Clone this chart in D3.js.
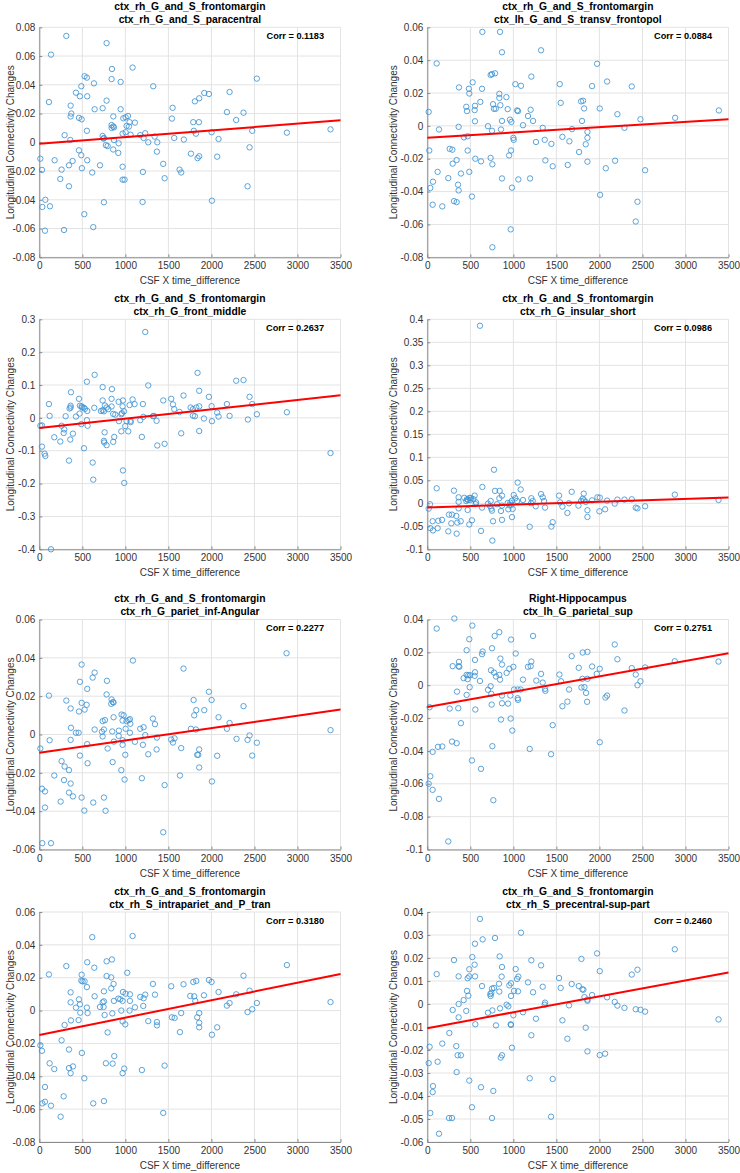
<!DOCTYPE html>
<html><head><meta charset="utf-8">
<script src="https://cdn.jsdelivr.net/npm/d3@7"></script>
<style>
body{margin:0;background:#fff;}
svg{display:block;}
text{font-family:"Liberation Sans",Arial,Helvetica,sans-serif;}
</style>
</head><body>
<svg id="chart" width="740" height="1173"></svg>
<script>
// ---------------- DATA ----------------
const xTicks = [0, 500, 1000, 1500, 2000, 2500, 3000, 3500];
const xTickLabels = ["0","500","1000","1500","2000","2500","3000","3500"];
const xLabel = "CSF X time_difference";
const yLabel = "Longitudinal Connectivity Changes";

const titles = [
  ["ctx_rh_G_and_S_frontomargin", "ctx_rh_G_and_S_paracentral"],
  ["ctx_rh_G_and_S_frontomargin", "ctx_lh_G_and_S_transv_frontopol"],
  ["ctx_rh_G_and_S_frontomargin", "ctx_rh_G_front_middle"],
  ["ctx_rh_G_and_S_frontomargin", "ctx_rh_G_insular_short"],
  ["ctx_rh_G_and_S_frontomargin", "ctx_rh_G_pariet_inf-Angular"],
  ["Right-Hippocampus", "ctx_lh_G_parietal_sup"],
  ["ctx_rh_G_and_S_frontomargin", "ctx_rh_S_intrapariet_and_P_tran"],
  ["ctx_rh_G_and_S_frontomargin", "ctx_rh_S_precentral-sup-part"]
];
const corrLabels = ["Corr = 0.1183","Corr = 0.0884","Corr = 0.2637","Corr = 0.0986",
                    "Corr = 0.2277","Corr = 0.2751","Corr = 0.3180","Corr = 0.2460"];

const yTicks1 = [-0.08,-0.06,-0.04,-0.02,0,0.02,0.04,0.06,0.08];
const yTickLabels1 = ["-0.08","-0.06","-0.04","-0.02","0","0.02","0.04","0.06","0.08"];
const yTicks2 = [-0.08,-0.06,-0.04,-0.02,0,0.02,0.04,0.06];
const yTickLabels2 = ["-0.08","-0.06","-0.04","-0.02","0","0.02","0.04","0.06"];
const yTicks3 = [-0.4,-0.3,-0.2,-0.1,0,0.1,0.2,0.3];
const yTickLabels3 = ["-0.4","-0.3","-0.2","-0.1","0","0.1","0.2","0.3"];
const yTicks4 = [-0.1,-0.05,0,0.05,0.1,0.15,0.2,0.25,0.3,0.35,0.4];
const yTickLabels4 = ["-0.1","-0.05","0","0.05","0.1","0.15","0.2","0.25","0.3","0.35","0.4"];
const yTicks5 = [-0.06,-0.04,-0.02,0,0.02,0.04,0.06];
const yTickLabels5 = ["-0.06","-0.04","-0.02","0","0.02","0.04","0.06"];
const yTicks6 = [-0.1,-0.08,-0.06,-0.04,-0.02,0,0.02,0.04];
const yTickLabels6 = ["-0.1","-0.08","-0.06","-0.04","-0.02","0","0.02","0.04"];
const yTicks7 = [-0.08,-0.06,-0.04,-0.02,0,0.02,0.04,0.06];
const yTickLabels7 = ["-0.08","-0.06","-0.04","-0.02","0","0.02","0.04","0.06"];
const yTicks8 = [-0.06,-0.05,-0.04,-0.03,-0.02,-0.01,0,0.01,0.02,0.03,0.04];
const yTickLabels8 = ["-0.06","-0.05","-0.04","-0.03","-0.02","-0.01","0","0.01","0.02","0.03","0.04"];

// fitted line values at x = 0 and x = 3500
const fitX = [0, 3500];
const fit1 = [-0.001, 0.0153];
const fit2 = [-0.0072, 0.0040];
const fit3 = [-0.031, 0.069];
const fit4 = [-0.009, 0.0125];
const fit5 = [-0.0095, 0.013];
const fit6 = [-0.0133, 0.0194];
const fit7 = [-0.0149, 0.0222];
const fit8 = [-0.0105, 0.0137];

const pts1 = [[314,0.074],[136,0.061],[782,0.069],[112,0.028],[844,0.051],[1084,0.052],[526,0.046],[553,0.045],[840,0.044],[488,0.039],[635,0.041],[945,0.042],[1324,0.039],[426,0.0345],[472,0.032],[557,0.032],[782,0.029],[364,0.0255],[372,0.020],[364,0.018],[461,0.017],[492,0.016],[643,0.023],[736,0.0237],[945,0.023],[860,0.018],[976,0.0167],[1003,0.0174],[1030,0.0183],[1049,0.014],[1111,0.0137],[1014,0.0114],[840,0.012],[859,0.011],[867,0.0104],[840,0.010],[1042,0.011],[553,0.008],[294,0.005],[360,0.0016],[736,0.0044],[751,0.003],[747,0.0025],[968,0.006],[1003,0.007],[1061,0.0053],[867,0.0016],[922,-0.0007],[774,-0.002],[794,-0.0026],[859,-0.005],[918,-0.0074],[1173,0.005],[1212,0.003],[1231,0.0063],[1266,0.0],[1340,0.004],[1371,0.0],[1367,-0.0065],[1541,0.0165],[1549,0.024],[1568,0.003],[1680,0.0019],[1440,-0.015],[1456,-0.025],[1630,-0.019],[1649,-0.021],[1762,-0.0079],[1808,0.0285],[1858,0.0306],[1917,0.0343],[1971,0.0336],[1789,0.014],[1796,0.008],[1820,0.006],[1855,0.014],[1839,-0.011],[1858,-0.0097],[2002,0.007],[2083,0.0023],[2067,-0.01],[2006,-0.0406],[2180,0.021],[2211,0.035],[2288,0.0155],[2373,0.0206],[2474,0.008],[2443,-0.0035],[2420,-0.0306],[2528,0.0443],[2877,0.0067],[3384,0.009],[1200,-0.0415],[1204,-0.0206],[968,-0.017],[968,-0.026],[991,-0.026],[751,-0.0417],[705,-0.016],[615,-0.021],[557,-0.0125],[488,-0.009],[461,-0.0056],[495,-0.018],[387,-0.013],[345,-0.016],[259,-0.019],[244,-0.0255],[345,-0.0306],[178,-0.0125],[12,-0.0114],[31,-0.0192],[70,-0.040],[35,-0.045],[124,-0.0445],[66,-0.0615],[287,-0.061],[627,-0.059],[523,-0.050]];

const pts2 = [[640,0.0572],[845,0.0572],[868,0.0448],[1322,0.046],[109,0.038],[736,0.031],[752,0.0315],[787,0.032],[527,0.0265],[636,0.0226],[368,0.0234],[484,0.0226],[488,0.0197],[1023,0.0254],[1089,0.0244],[1209,0.030],[837,0.0195],[837,0.017],[919,0.0175],[616,0.0146],[453,0.0116],[554,0.0122],[764,0.0132],[849,0.0126],[775,0.0104],[795,0.0104],[934,0.0102],[461,0.009],[550,0.0096],[1043,0.0094],[1054,0.009],[1201,0.0098],[1170,0.006],[16,0.0085],[554,0.0028],[868,0.003],[961,0.0038],[977,0.0024],[1229,0.003],[1112,0.0004],[705,-0.0002],[364,-0.0006],[136,-0.0022],[752,-0.003],[856,-0.0022],[1341,-0.0012],[426,-0.007],[469,-0.0063],[1000,-0.0073],[1004,-0.0085],[23,-0.015],[260,-0.014],[291,-0.0145],[469,-0.015],[341,-0.0208],[295,-0.023],[558,-0.020],[624,-0.0216],[736,-0.0195],[756,-0.0234],[950,-0.018],[973,-0.015],[120,-0.028],[391,-0.029],[488,-0.028],[244,-0.0318],[868,-0.032],[1058,-0.0326],[1194,-0.032],[35,-0.0378],[66,-0.034],[357,-0.0358],[364,-0.0393],[984,-0.0376],[310,-0.0458],[341,-0.0464],[519,-0.043],[62,-0.048],[174,-0.049],[969,-0.063],[756,-0.0739],[1263,-0.0098],[1364,-0.0085],[1442,-0.011],[1372,-0.021],[1457,-0.0246],[1539,0.0254],[1550,0.014],[1570,-0.0067],[1651,-0.0094],[1682,-0.002],[1632,-0.0238],[1764,-0.0159],[1787,0.0149],[1810,0.0153],[1822,0.0106],[1798,0.003],[1841,-0.0112],[1861,-0.0073],[1861,-0.0037],[1861,-0.0218],[1915,0.0242],[1973,0.0378],[2004,0.0106],[2089,0.027],[2074,-0.0258],[2008,-0.042],[2209,0.0071],[2182,-0.0212],[2291,-0.0012],[2376,0.024],[2477,0.004],[2531,-0.027],[2442,-0.0462],[2422,-0.0582],[2880,0.0049],[3388,0.0094]];

const pts3 = [[1231,0.2615],[1839,0.137],[643,0.131],[553,0.11],[2288,0.113],[2373,0.115],[1266,0.0987],[736,0.0936],[844,0.0875],[1858,0.0824],[368,0.078],[1971,0.064],[2443,0.064],[1676,0.068],[461,0.058],[840,0.058],[736,0.053],[1084,0.056],[1533,0.058],[1440,0.053],[972,0.053],[922,0.049],[112,0.042],[1204,0.042],[1107,0.042],[2180,0.042],[2474,0.042],[1049,0.039],[1553,0.041],[364,0.037],[472,0.037],[492,0.035],[515,0.0315],[364,0.0315],[352,0.0285],[639,0.0305],[763,0.0376],[782,0.0315],[840,0.0346],[802,0.0265],[496,0.0315],[530,0.0275],[557,0.021],[968,0.035],[984,0.02],[716,0.021],[736,0.0234],[751,0.02],[1758,0.0315],[1785,0.0265],[1824,0.0315],[1858,0.035],[2002,0.0356],[1568,0.0265],[1630,0.018],[2067,0.016],[306,0.005],[426,0.004],[120,0.006],[468,0.013],[859,0.012],[883,0.010],[953,0.011],[960,0.014],[1208,0.003],[1320,0.005],[1332,0.006],[1785,0.007],[1808,0.005],[2083,0.004],[2211,0.006],[2528,0.011],[2877,0.017],[12,-0.024],[31,-0.023],[259,-0.024],[290,-0.035],[283,-0.046],[391,-0.048],[174,-0.059],[244,-0.072],[360,-0.066],[31,-0.0875],[62,-0.109],[70,-0.116],[345,-0.130],[519,-0.0925],[553,-0.007],[561,-0.024],[488,-0.019],[620,-0.136],[627,-0.188],[751,-0.070],[759,-0.044],[755,-0.075],[782,-0.083],[859,-0.073],[871,-0.058],[925,-0.010],[953,-0.041],[972,-0.160],[987,-0.198],[999,-0.025],[1014,-0.010],[1034,-0.041],[1061,-0.013],[1061,-0.009],[1173,-0.007],[1192,-0.058],[1363,-0.009],[1371,-0.084],[1456,-0.079],[1649,-0.047],[1858,-0.040],[1913,-0.002],[2006,-0.010],[2424,-0.005],[3384,-0.107],[136,-0.4]];

const pts4 = [[612,0.386],[775,0.073],[1050,0.045],[1085,0.030],[109,0.0326],[310,0.0275],[640,0.0355],[787,0.027],[841,0.027],[868,0.0167],[550,0.0167],[430,0.012],[364,0.013],[488,0.0116],[508,0.0116],[535,0.009],[461,0.009],[453,0.005],[473,0.0072],[500,0.0072],[566,0.002],[562,-0.002],[705,-0.0007],[736,0.005],[729,-0.006],[752,-0.016],[744,-0.0116],[764,-0.039],[756,-0.081],[624,-0.060],[519,-0.037],[488,-0.046],[469,-0.0145],[364,0.003],[364,-0.011],[388,-0.039],[349,-0.042],[337,-0.0275],[287,-0.0246],[252,-0.0246],[279,-0.0435],[244,-0.061],[341,-0.066],[171,-0.036],[128,-0.038],[62,-0.039],[35,-0.054],[66,-0.059],[120,-0.054],[16,-0.0116],[31,-0.002],[636,-0.0094],[810,-0.002],[837,0.011],[856,-0.0167],[868,-0.036],[868,-0.005],[934,0.0007],[942,-0.013],[954,-0.0043],[965,0.0014],[977,-0.0036],[984,0.0058],[992,-0.0123],[984,-0.030],[1004,0.018],[1023,0.011],[1043,0.005],[1112,0.0072],[1190,-0.051],[1205,0.0],[1209,0.011],[1225,0.005],[1260,-0.0065],[1322,0.020],[1341,0.013],[1357,0.005],[1368,-0.0094],[1442,-0.0507],[1457,-0.041],[1531,0.0167],[1543,0.002],[1570,-0.0072],[1628,-0.021],[1647,0.0],[1678,0.025],[1756,-0.005],[1787,0.005],[1806,0.010],[1818,0.021],[1822,0.0065],[1841,0.003],[1861,-0.015],[1861,-0.0297],[1915,0.0065],[1977,0.013],[2004,0.0123],[2000,-0.0174],[2066,-0.013],[2089,0.0058],[2178,-0.0007],[2209,0.008],[2291,0.008],[2376,0.0087],[2422,-0.0094],[2442,-0.011],[2531,-0.0065],[2876,0.0188],[3384,0.0072]];

const pts5 = [[2873,0.0424],[1088,0.0386],[1676,0.0344],[492,0.0365],[643,0.0323],[620,0.0297],[472,0.0275],[786,0.028],[557,0.0238],[782,0.0209],[112,0.0203],[1971,0.0223],[314,0.0177],[840,0.0183],[855,0.0169],[863,0.0167],[836,0.016],[492,0.0165],[550,0.0155],[1793,0.018],[2002,0.018],[364,0.0136],[461,0.012],[526,0.013],[1824,0.0127],[1917,0.0127],[2373,0.0148],[1800,0.010],[956,0.0104],[980,0.010],[736,0.007],[763,0.0075],[863,0.009],[968,0.0073],[1038,0.0075],[1053,0.008],[1014,0.007],[1057,0.0056],[2083,0.009],[1320,0.0083],[1344,0.0054],[1173,0.003],[1212,0.0038],[1820,0.0026],[1762,0.003],[2180,0.003],[2211,0.006],[3384,0.0023],[368,0.0035],[426,0.0009],[457,0.0009],[643,0.0026],[751,0.0026],[728,0.0014],[736,-0.001],[848,0.0016],[925,0.002],[1003,0.003],[1053,0.0009],[1111,-0.0038],[922,-0.0007],[968,-0.003],[968,-0.0054],[867,-0.0037],[1231,-0.0003],[1204,-0.0054],[1367,-0.0016],[1363,-0.0078],[1266,-0.0103],[999,-0.0106],[120,-0.003],[12,-0.0073],[364,-0.0028],[557,-0.005],[472,-0.011],[794,-0.0073],[1533,-0.0026],[1553,-0.0042],[1572,-0.002],[1649,-0.0071],[1858,-0.0078],[1847,-0.0106],[1835,-0.0106],[1858,-0.0172],[2067,-0.0111],[2292,-0.0023],[2443,-0.0005],[2420,-0.0028],[2528,-0.0043],[2474,-0.011],[259,-0.0139],[294,-0.0167],[345,-0.0186],[174,-0.0214],[561,-0.015],[852,-0.0144],[953,-0.0186],[991,-0.0235],[1192,-0.0228],[1634,-0.0214],[2006,-0.0245],[287,-0.0238],[364,-0.0256],[1456,-0.0264],[31,-0.0283],[66,-0.0297],[345,-0.0303],[248,-0.035],[391,-0.0323],[492,-0.0329],[627,-0.0355],[751,-0.0329],[66,-0.0381],[523,-0.0397],[770,-0.0398],[1440,-0.051],[35,-0.0567],[136,-0.0567]];

const pts6 = [[314,0.0406],[523,0.0363],[109,0.0345],[837,0.0323],[1229,0.030],[783,0.030],[973,0.0278],[488,0.028],[2178,0.0248],[752,0.0225],[457,0.0213],[643,0.0205],[636,0.0189],[1027,0.0193],[1806,0.0199],[1861,0.0203],[1678,0.0177],[849,0.0162],[554,0.0154],[2209,0.0158],[1209,0.0144],[368,0.0142],[364,0.0116],[295,0.0116],[372,0.0112],[868,0.0126],[1000,0.0112],[1170,0.0112],[1201,0.0116],[953,0.010],[740,0.0091],[1915,0.0114],[1760,0.0106],[2004,0.010],[2376,0.0104],[2531,0.0108],[2876,0.0146],[3384,0.0144],[554,0.0079],[775,0.0077],[922,0.0075],[1322,0.0069],[1535,0.0065],[1969,0.0069],[2422,0.0065],[477,0.0061],[496,0.0061],[457,0.0063],[550,0.0057],[798,0.0053],[837,0.0063],[422,0.0043],[469,0.0037],[845,0.0034],[1112,0.0034],[1267,0.0028],[612,0.0026],[1554,0.0024],[1341,0.0016],[1802,0.0039],[1861,0.0039],[2477,0.0024],[736,-0.0006],[2442,0.0],[492,-0.0012],[1826,-0.0012],[1791,-0.0014],[345,-0.0039],[705,-0.0028],[744,-0.0053],[1008,-0.0026],[1050,-0.0026],[1085,-0.0026],[1050,-0.0079],[1054,-0.0089],[1368,-0.0022],[1372,-0.0034],[1647,-0.0026],[1845,-0.0047],[457,-0.0059],[868,-0.0063],[965,-0.0063],[938,-0.0112],[868,-0.011],[748,-0.0118],[1628,-0.010],[1857,-0.0101],[1570,-0.0128],[2070,-0.0075],[2089,-0.0063],[2291,-0.0154],[27,-0.0134],[260,-0.0142],[360,-0.014],[558,-0.0148],[856,-0.0209],[969,-0.0203],[391,-0.0231],[988,-0.0276],[1457,-0.0243],[287,-0.0343],[341,-0.0353],[756,-0.0371],[1190,-0.0388],[2004,-0.0347],[62,-0.0406],[124,-0.0375],[174,-0.0373],[519,-0.0458],[624,-0.0509],[1438,-0.042],[35,-0.0554],[16,-0.060],[62,-0.0637],[136,-0.0692],[767,-0.070],[244,-0.0951]];

const pts7 = [[1084,0.0454],[615,0.0447],[844,0.0311],[782,0.030],[557,0.0294],[314,0.0271],[639,0.0261],[2877,0.0277],[112,0.022],[1022,0.023],[492,0.0218],[782,0.021],[836,0.0202],[2373,0.0212],[488,0.0182],[526,0.0178],[503,0.0178],[553,0.0143],[863,0.0162],[1320,0.0162],[1533,0.0148],[1676,0.016],[1789,0.0174],[1824,0.018],[1971,0.0186],[2002,0.0174],[836,0.0135],[751,0.0117],[364,0.0111],[972,0.0113],[1003,0.0103],[1053,0.0099],[1344,0.0097],[2083,0.0113],[2443,0.0121],[1231,0.0097],[1913,0.0093],[2288,0.0099],[1754,0.0089],[1800,0.0087],[1173,0.0083],[918,0.0073],[941,0.0069],[461,0.0068],[643,0.0087],[968,0.0059],[1053,0.0059],[867,0.0059],[1212,0.0075],[1812,0.0059],[364,0.005],[472,0.0038],[736,0.005],[751,0.0056],[705,0.0022],[747,0.0022],[426,0.0018],[553,0.0018],[1111,0.002],[1208,0.0028],[3384,0.0052],[2528,0.0046],[2180,0.003],[2211,0.0046],[2474,0.0008],[2420,-0.0009],[1858,-0.0015],[1649,-0.0015],[953,0.0],[1049,0.0],[848,-0.0017],[561,-0.0015],[476,-0.0013],[759,-0.0027],[368,-0.006],[457,-0.0058],[968,-0.0066],[999,-0.0084],[1266,-0.0064],[1367,-0.007],[1367,-0.009],[1541,-0.0041],[1572,-0.0045],[1835,-0.0041],[1858,-0.0074],[1858,-0.0102],[2067,-0.0102],[294,-0.0088],[1634,-0.0131],[794,-0.0133],[2006,-0.0147],[259,-0.0181],[12,-0.0211],[31,-0.0245],[345,-0.0237],[495,-0.0258],[871,-0.0277],[120,-0.0321],[174,-0.0356],[345,-0.035],[391,-0.034],[364,-0.0381],[774,-0.0321],[852,-0.0323],[987,-0.0353],[968,-0.0381],[1192,-0.0362],[1456,-0.0335],[523,-0.0412],[66,-0.0465],[283,-0.0522],[66,-0.0555],[35,-0.0565],[627,-0.0565],[751,-0.0551],[136,-0.0579],[248,-0.0646],[1440,-0.0623]];

const pts8 = [[612,0.037],[1089,0.031],[787,0.0287],[643,0.0281],[554,0.0262],[2876,0.0238],[1973,0.022],[523,0.0204],[841,0.0207],[310,0.0191],[1209,0.019],[1791,0.0196],[1322,0.0168],[550,0.0171],[868,0.0161],[488,0.0151],[1027,0.0152],[2004,0.0143],[2442,0.0149],[109,0.013],[2376,0.0128],[364,0.012],[488,0.012],[554,0.012],[864,0.0119],[1058,0.0119],[1043,0.0109],[1531,0.0113],[469,0.0112],[1170,0.0094],[833,0.0088],[973,0.009],[953,0.0081],[1678,0.0087],[1760,0.0078],[636,0.0078],[752,0.0067],[775,0.007],[1550,0.007],[1341,0.0075],[1802,0.0064],[1814,0.0062],[461,0.0057],[837,0.0054],[1054,0.0055],[1008,0.0057],[1229,0.0051],[744,0.0049],[477,0.0036],[973,0.0035],[422,0.0017],[736,0.0035],[732,0.0043],[1826,0.003],[1915,0.0039],[2089,0.0029],[1861,0.0019],[1861,0.0014],[2178,0.0009],[2209,-0.0007],[2291,-0.0017],[2422,-0.0023],[2477,-0.0025],[2531,-0.0033],[1368,0.0006],[1364,-0.0003],[1647,-0.0006],[364,0.0],[295,-0.0026],[922,-0.0003],[942,-0.001],[845,-0.0019],[453,-0.003],[705,-0.0038],[756,-0.0028],[1112,-0.0036],[364,-0.0058],[1000,-0.0049],[1263,-0.0064],[1570,-0.0071],[558,-0.0088],[798,-0.0093],[969,-0.0088],[973,-0.0091],[1841,-0.0103],[3384,-0.0067],[256,-0.0126],[1209,-0.0136],[1628,-0.0151],[174,-0.0172],[27,-0.0186],[337,-0.0183],[984,-0.019],[1861,-0.0206],[2004,-0.0222],[2066,-0.0216],[353,-0.0223],[391,-0.0223],[868,-0.0223],[853,-0.0233],[16,-0.0257],[120,-0.0251],[341,-0.0296],[488,-0.0333],[1190,-0.0323],[1457,-0.0326],[624,-0.0362],[66,-0.0357],[62,-0.0383],[767,-0.0378],[519,-0.0449],[35,-0.0474],[252,-0.0496],[287,-0.0496],[752,-0.0496],[1438,-0.049],[136,-0.0564]];

// ---------------- PANELS ----------------
const panels = [
  {pts: pts1, fit: fit1, yt: yTicks1, ytl: yTickLabels1},
  {pts: pts2, fit: fit2, yt: yTicks2, ytl: yTickLabels2},
  {pts: pts3, fit: fit3, yt: yTicks3, ytl: yTickLabels3},
  {pts: pts4, fit: fit4, yt: yTicks4, ytl: yTickLabels4},
  {pts: pts5, fit: fit5, yt: yTicks5, ytl: yTickLabels5},
  {pts: pts6, fit: fit6, yt: yTicks6, ytl: yTickLabels6},
  {pts: pts7, fit: fit7, yt: yTicks7, ytl: yTickLabels7},
  {pts: pts8, fit: fit8, yt: yTicks8, ytl: yTickLabels8}
];

const colLeft = [39.3, 427.3];
const plotW = 301.2;
const rowTop = [27.3, 319.3, 619.5, 912];
const plotH = 230;
const ylabX = [10, 393.3];

const svg = d3.select("#chart");
const gridColor = "#e3e3e3";
const axisColor = "#8a8a8a";
const textColor = "#333333";
const markerColor = "#3f93d3";

panels.forEach((p, i) => {
  const col = i % 2, row = Math.floor(i / 2);
  const x0 = colLeft[col], y0 = rowTop[row];
  const x = d3.scaleLinear().domain([0, 3500]).range([x0, x0 + plotW]);
  const y = d3.scaleLinear().domain([p.yt[0], p.yt[p.yt.length - 1]]).range([y0 + plotH, y0]);
  const g = svg.append("g");

  // grid
  g.selectAll(".gx").data(xTicks).join("line")
    .attr("x1", d => x(d)).attr("x2", d => x(d))
    .attr("y1", y0).attr("y2", y0 + plotH)
    .attr("stroke", gridColor).attr("stroke-width", 1);
  g.selectAll(".gy").data(p.yt).join("line")
    .attr("x1", x0).attr("x2", x0 + plotW)
    .attr("y1", d => y(d)).attr("y2", d => y(d))
    .attr("stroke", gridColor).attr("stroke-width", 1);

  // axes
  const ax = d3.axisBottom(x).tickValues(xTicks).tickFormat((d, k) => xTickLabels[k])
    .tickSizeInner(-3).tickSizeOuter(0).tickPadding(5);
  const gx = g.append("g").attr("transform", `translate(0,${y0 + plotH})`).call(ax);
  const ay = d3.axisLeft(y).tickValues(p.yt).tickFormat((d, k) => p.ytl[k])
    .tickSizeInner(-3).tickSizeOuter(0).tickPadding(4);
  const gy = g.append("g").attr("transform", `translate(${x0},0)`).call(ay);
  [gx, gy].forEach(a => {
    a.select(".domain").attr("stroke", axisColor).attr("stroke-width", 1);
    a.selectAll(".tick line").attr("stroke", axisColor);
    a.selectAll(".tick text").attr("fill", textColor)
      .style("font-size", "10px").style("font-family", '"Liberation Sans",Arial,sans-serif');
  });

  // points
  g.selectAll(".pt").data(p.pts).join("circle")
    .attr("cx", d => x(d[0])).attr("cy", d => y(d[1])).attr("r", 2.7)
    .attr("fill", "none").attr("stroke", markerColor).attr("stroke-width", 0.85);

  // fit line
  g.append("line")
    .attr("x1", x(fitX[0])).attr("y1", y(p.fit[0]))
    .attr("x2", x(fitX[1])).attr("y2", y(p.fit[1]))
    .attr("stroke", "#ff0000").attr("stroke-width", 2);

  // titles
  const cx = x0 + plotW / 2;
  g.append("text").attr("x", cx).attr("y", y0 - 21).attr("dy", "0.35em")
    .attr("text-anchor", "middle").style("font-size", "10.3px").style("font-weight", "bold")
    .attr("fill", "#000").text(titles[i][0]);
  g.append("text").attr("x", cx).attr("y", y0 - 8).attr("dy", "0.35em")
    .attr("text-anchor", "middle").style("font-size", "10.3px").style("font-weight", "bold")
    .attr("fill", "#000").text(titles[i][1]);

  // corr
  g.append("text").attr("x", x0 + plotW - 16.5).attr("y", y0 + 8.5).attr("dy", "0.35em")
    .attr("text-anchor", "end").style("font-size", "9.2px").style("font-weight", "bold")
    .attr("fill", "#000").text(corrLabels[i]);

  // x label
  g.append("text").attr("x", cx).attr("y", y0 + plotH + 23.5).attr("dy", "0.35em")
    .attr("text-anchor", "middle").style("font-size", "10px").attr("fill", textColor)
    .text(xLabel);

  // y label
  const ly = y0 + plotH / 2;
  g.append("text").attr("transform", `translate(${ylabX[col]},${ly}) rotate(-90)`)
    .attr("dy", "0.35em").attr("text-anchor", "middle").style("font-size", "10px")
    .attr("fill", textColor).text(yLabel);
});
</script>
</body></html>
